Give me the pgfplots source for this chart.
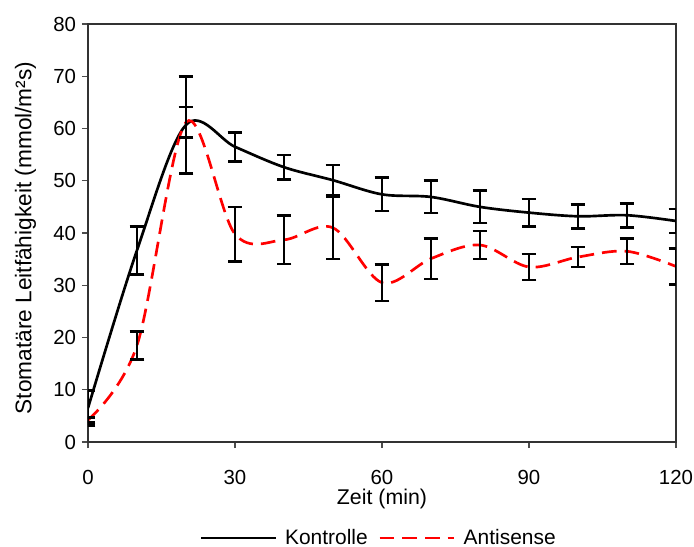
\documentclass[border=0pt]{standalone}
\usepackage{pgfplots}
\pgfplotsset{compat=1.18}
\usepackage{fontspec}
\setmainfont{Liberation Sans}
\begin{document}
\begin{tikzpicture}
\useasboundingbox (-66pt,-78.75pt) rectangle (454.5pt,331.5pt);
\begin{axis}[
  at={(0,0)}, anchor=south west,
  scale only axis, width=441pt, height=313.5pt,
  xmin=0, xmax=120, ymin=0, ymax=80,
  xtick={0,30,60,90,120}, ytick={0,10,...,80},
  xtick pos=bottom, ytick pos=left,
  tick align=outside, major tick length=4.5pt,
  tick style={color=black!70, line width=0.8pt},
  axis line style={color=black!80, line width=0.9pt},
  /pgf/number format/assume math mode=true,
  tick label style={font=\fontsize{15.3}{18}\selectfont},
  xticklabel shift=13pt,
  yticklabel style={xshift=-1pt},
  xlabel={Zeit (min)},
  ylabel={Stomatäre Leitfähigkeit (mmol/m²s)},
  xlabel style={font=\fontsize{16}{18}\selectfont, at={(axis description cs:0.5,0)}, anchor=center, yshift=-43pt},
  ylabel style={font=\fontsize{17}{19}\selectfont, at={(axis description cs:-0.1247,0.488)}, anchor=north, rotate=0, inner sep=0pt},
  legend style={at={(axis description cs:0.495,0)}, anchor=center, yshift=-72pt,
    draw=none, fill=none, legend columns=2, font=\fontsize{15.7}{17}\selectfont,
    /tikz/every even column/.append style={column sep=6pt}},
  legend image code/.code={\draw[#1] (0pt,0pt) -- (56pt,0pt); \path (60pt,0pt);},
]
\addplot[black, line width=2pt, smooth, tension=0.55,
  error bars/.cd, y dir=both, y explicit,
  error bar style={black, solid, line width=2.2pt},
  error mark options={rotate=90, mark size=5.6pt, line width=2pt, black, solid}]
  table[x=x, y=y, y error=e] {
x y e
0 6.5 3.3
10 36.7 4.6
20 60.7 9.3
30 56.5 2.8
40 52.6 2.3
50 50.1 2.9
60 47.4 3.2
70 46.9 3.1
80 45.0 3.1
90 43.9 2.6
100 43.2 2.3
110 43.4 2.3
120 42.3 2.3
};
\addlegendentry{Kontrolle}
\addplot[red, line width=2pt, smooth, tension=0.55, dash pattern=on 11pt off 6pt,
  error bars/.cd, y dir=both, y explicit,
  error bar style={black, solid, line width=2.2pt},
  error mark options={rotate=90, mark size=5.6pt, line width=2pt, black, solid}]
  table[x=x, y=y, y error=e] {
x y e
0 4.2 0.5
10 18.5 2.7
20 61.2 2.9
30 39.8 5.2
40 38.7 4.6
50 41.0 6.0
60 30.5 3.5
70 35.1 3.9
80 37.7 2.7
90 33.5 2.5
100 35.4 1.9
110 36.5 2.4
120 33.6 3.4
};
\addlegendentry{Antisense}
\end{axis}
\end{tikzpicture}
\end{document}
